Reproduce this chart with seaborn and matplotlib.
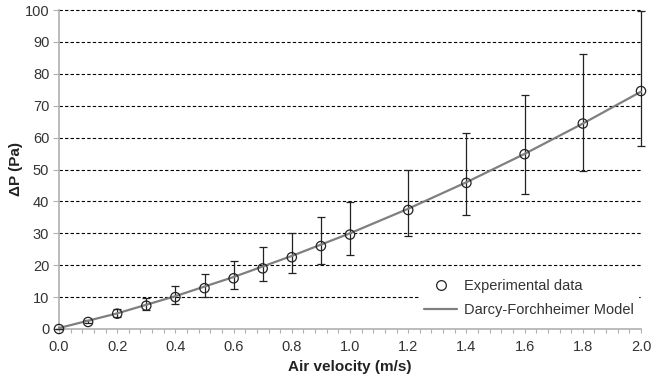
import matplotlib
matplotlib.use("Agg")
import matplotlib.pyplot as plt
import seaborn as sns
import numpy as np
import pandas as pd
from matplotlib.lines import Line2D
from matplotlib.ticker import MultipleLocator

# Data
velocity = [0.0, 0.1, 0.2, 0.3, 0.4, 0.5, 0.6, 0.7, 0.8, 0.9, 1.0, 1.2, 1.4, 1.6, 1.8, 2.0]
dp_exp = [0.0, 2.2, 4.8, 7.3, 10.0, 12.8, 15.9, 19.0, 22.5, 26.0, 29.6, 37.3, 45.8, 54.8, 64.4, 74.6]
err_upper = [0.0, 2.7, 6.2, 9.8, 13.4, 17.1, 21.3, 25.6, 30.1, 35.0, 39.7, 50.0, 61.5, 73.4, 86.3, 99.8]
err_lower = [0.0, 1.8, 3.9, 6.0, 7.9, 10.1, 12.5, 15.0, 17.5, 20.4, 23.1, 29.2, 35.7, 42.2, 49.6, 57.5]

model_v = [0.0, 0.2, 0.4, 0.6, 0.8, 1.0, 1.2, 1.4, 1.6, 1.8, 2.0]
model_dp = [0.3, 4.9, 10.3, 16.3, 22.9, 30.0, 37.7, 46.0, 54.9, 64.4, 74.4]

x_ticks = [0.0, 0.2, 0.4, 0.6, 0.8, 1.0, 1.2, 1.4, 1.6, 1.8, 2.0]
y_ticks = [0, 10, 20, 30, 40, 50, 60, 70, 80, 90, 100]

sns.set_style("white")
plt.rcParams['font.family'] = ['Liberation Sans', 'DejaVu Sans']

fig = plt.figure(figsize=(6.52, 3.82), dpi=100)
ax = fig.add_axes([59/652, 1-329/382, (641-59)/652, (329-10)/382])

df_exp = pd.DataFrame({"v": velocity, "dp": dp_exp})
df_mod = pd.DataFrame({"v": model_v, "dp": model_dp})

# gridlines
for yv in y_ticks[1:]:
    ax.axhline(yv, color="black", lw=0.8, ls=(0, (3, 2)), zorder=1)

yerr = [np.array(dp_exp) - np.array(err_lower), np.array(err_upper) - np.array(dp_exp)]
eb = ax.errorbar(velocity, dp_exp, yerr=yerr, fmt="none", ecolor="#222222",
                 elinewidth=0.9, capsize=3, capthick=0.9, zorder=3)
for art in eb.get_children():
    art.set_clip_on(False)

sns.lineplot(data=df_mod, x="v", y="dp", ax=ax, color="#7f7f7f", lw=1.6,
             zorder=4, legend=False)
sns.scatterplot(data=df_exp, x="v", y="dp", ax=ax, marker="o", s=45,
                facecolor="none", edgecolor="#222222", linewidth=0.9, zorder=5,
                legend=False, clip_on=False)
for ln in ax.lines:
    ln.set_clip_on(False)

ax.set_xlim(0, 2.0)
ax.set_ylim(0, 100)
ax.set_xticks(x_ticks)
ax.set_xticklabels([f"{t:.1f}" for t in x_ticks])
ax.xaxis.set_minor_locator(MultipleLocator(0.04))
ax.set_yticks(y_ticks)

for s in ["top", "right"]:
    ax.spines[s].set_visible(False)
for s in ["left", "bottom"]:
    ax.spines[s].set_color("#b0b0b0")
    ax.spines[s].set_linewidth(1.2)

ax.tick_params(axis="x", which="both", direction="out", length=3, width=0.8,
               color="#b0b0b0", labelsize=10.5, labelcolor="#333333", pad=5,
               bottom=True)
ax.tick_params(axis="y", which="major", direction="out", length=4, width=0.8,
               color="#b0b0b0", labelsize=10.5, labelcolor="#333333", pad=3,
               left=True)

ax.set_xlabel("Air velocity (m/s)", fontsize=11, fontweight="bold", color="#222222", labelpad=4)
ax.set_ylabel("ΔP (Pa)", fontsize=11, fontweight="bold", color="#222222", labelpad=1)

handles = [
    Line2D([], [], marker="o", ls="none", mfc="none", mec="#222222", ms=7, mew=0.9),
    Line2D([], [], color="#7f7f7f", lw=1.6),
]
leg = ax.legend(handles, ["Experimental data", "Darcy-Forchheimer Model"],
                loc="lower right", bbox_to_anchor=(1.0, 0.015), frameon=True,
                fontsize=10.5, handlelength=2.2, handletextpad=0.5,
                labelspacing=0.7, borderpad=0.3, borderaxespad=0.2)
leg.get_frame().set_facecolor("white")
leg.get_frame().set_edgecolor("white")
leg.get_frame().set_alpha(1.0)
leg.get_frame().set_boxstyle("square", pad=0)
leg.set_zorder(10)
for t in leg.get_texts():
    t.set_color("#333333")

fig.savefig("out.png", dpi=100)
